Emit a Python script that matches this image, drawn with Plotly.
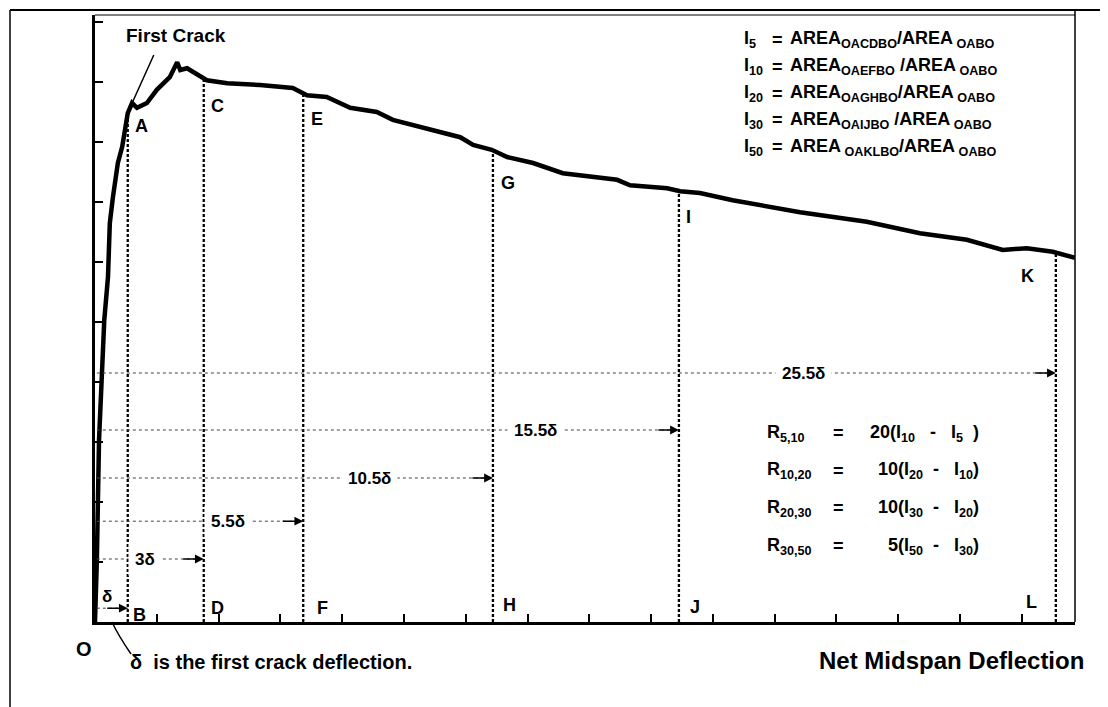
import numpy as np
import plotly.graph_objects as go

# ---------------- data (axis units: 1 unit = one tick interval) ----------------
x_curve = [0, 0.03, 0.065, 0.10, 0.15, 0.21, 0.24, 0.29, 0.37, 0.44, 0.53, 0.60, 0.68,
           0.84, 1.00, 1.21, 1.33, 1.38, 1.49, 1.81, 2.14, 2.67, 3.20, 3.43, 3.75, 4.13,
           4.56, 4.82, 5.47, 5.91, 6.12, 6.42, 6.67, 7.09, 7.57, 8.45, 8.66, 9.26, 9.47,
           9.79, 10.32, 10.87, 11.41, 12.49, 13.35, 14.11, 14.69, 15.08, 15.50, 15.86]
y_curve = [0, 1.03, 3.03, 4.03, 5.03, 5.75, 6.65, 7.08, 7.65, 7.92, 8.48, 8.65, 8.57,
           8.65, 8.87, 9.08, 9.33, 9.20, 9.23, 9.03, 8.98, 8.95, 8.90, 8.78, 8.75, 8.57,
           8.50, 8.37, 8.20, 8.08, 7.95, 7.87, 7.75, 7.65, 7.48, 7.37, 7.28, 7.23, 7.18,
           7.15, 7.03, 6.92, 6.83, 6.67, 6.48, 6.37, 6.20, 6.23, 6.17, 6.07]

# deflection marks (B, D, F, H, J, L) and their curve points (A, C, E, G, I, K)
bottom_names = ["B", "D", "F", "H", "J", "L"]
top_names = ["A", "C", "E", "G", "I", "K"]
mark_x = [0.53, 1.76, 3.37, 6.44, 9.45, 15.55]

# dimension lines: label, level
dim_labels = ["δ", "3δ", "5.5δ", "10.5δ", "15.5δ", "25.5δ"]
dim_levels = [0.23, 1.05, 1.68, 2.40, 3.20, 4.15]
dim_label_x = [0.19, 0.81, 2.15, 4.45, 7.13, 11.46]

index_names = ["I<sub>5</sub>", "I<sub>10</sub>", "I<sub>20</sub>", "I<sub>30</sub>", "I<sub>50</sub>"]
index_defs = [
    "AREA<sub>OACDBO</sub>/AREA<sub> OABO</sub>",
    "AREA<sub>OAEFBO</sub> /AREA<sub> OABO</sub>",
    "AREA<sub>OAGHBO</sub>/AREA<sub> OABO</sub>",
    "AREA<sub>OAIJBO</sub> /AREA<sub> OABO</sub>",
    "AREA<sub> OAKLBO</sub>/AREA<sub> OABO</sub>",
]
ratio_names = ["R<sub>5,10</sub>", "R<sub>10,20</sub>", "R<sub>20,30</sub>", "R<sub>30,50</sub>"]
ratio_defs = [
    "20(I<sub>10</sub>&nbsp;&nbsp; - &nbsp;&nbsp;I<sub>5</sub>&nbsp; )",
    "10(I<sub>20</sub>&nbsp; - &nbsp; I<sub>10</sub>)",
    "10(I<sub>30</sub>&nbsp; - &nbsp; I<sub>20</sub>)",
    "5(I<sub>50</sub>&nbsp; - &nbsp; I<sub>30</sub>)",
]

# ---------------- layout geometry (reference pixel frame) ----------------
PAGE_OFF = 8            # html body margin
W, H = 1108 - PAGE_OFF, 707 - PAGE_OFF
L_, R_, T_, B_ = 95, 1075, 15, 622
XMAX = 15.86
YMAX = 10.117


def pxx(px):
    return (px - L_) / (R_ - L_)


def pxy(py):
    return (B_ - py) / (B_ - T_)


FONT = "Liberation Sans, Arial, Helvetica, sans-serif"
NARROW = "Liberation Sans Narrow, Liberation Sans, Arial, sans-serif"


def bold(size, fam=FONT):
    return dict(family=fam, size=size, color="black", weight="bold")


fig = go.Figure()

# main load-deflection curve
fig.add_trace(go.Scatter(x=x_curve, y=y_curve, mode="lines",
                         line=dict(color="black", width=4.5), hoverinfo="skip"))

# vertical dashed lines from axis to curve
for xm in mark_x:
    ytop = float(np.interp(xm, x_curve, y_curve))
    fig.add_trace(go.Scatter(x=[xm, xm], y=[0, ytop], mode="lines",
                             line=dict(color="black", width=2.3, dash="3px,2px"),
                             hoverinfo="skip"))

# horizontal dimension lines
for xm, yl in zip(mark_x, dim_levels):
    fig.add_trace(go.Scatter(x=[0.03, xm], y=[yl, yl], mode="lines",
                             line=dict(color="#444", width=1, dash="dot"),
                             hoverinfo="skip"))

annotations = []
# arrowheads on dimension lines
for xm, yl in zip(mark_x, dim_levels):
    annotations.append(dict(x=xm, y=yl, xref="x", yref="y", ax=-22, ay=0,
                            axref="pixel", ayref="pixel", text="", showarrow=True,
                            arrowhead=2, arrowsize=1.1, arrowwidth=1.6,
                            arrowcolor="black", standoff=0))
# dimension labels
for i, (lab, lx, yl) in enumerate(zip(dim_labels, dim_label_x, dim_levels)):
    if i == 0:
        annotations.append(dict(x=lx, y=yl, xref="x", yref="y", yshift=12,
                                text=lab, showarrow=False, font=bold(17)))
    else:
        annotations.append(dict(x=lx, y=yl, xref="x", yref="y", text=lab,
                                showarrow=False, bgcolor="white", borderpad=6,
                                font=bold(17, NARROW)))

# point labels
top_shift = [(14, -13), (14, -28), (14, -26), (15, -33), (10, -26), (-28, -23)]
bot_shift = [(12, 7), (14, 14), (19, 14), (17, 17), (16, 15), (-24, 20)]
for name, xm, (dx, dy) in zip(top_names, mark_x, top_shift):
    ytop = float(np.interp(xm, x_curve, y_curve))
    annotations.append(dict(x=xm, y=ytop, xref="x", yref="y", xshift=dx, yshift=dy,
                            text=name, showarrow=False, font=bold(18)))
for name, xm, (dx, dy) in zip(bottom_names, mark_x, bot_shift):
    annotations.append(dict(x=xm, y=0, xref="x", yref="y", xshift=dx, yshift=dy,
                            text=name, showarrow=False, font=bold(18)))

# first crack leader + label
annotations.append(dict(x=mark_x[0] + 0.06, y=float(np.interp(mark_x[0] + 0.06, x_curve, y_curve)),
                        xref="x", yref="y", ax=23, ay=-51, axref="pixel", ayref="pixel",
                        text="", showarrow=True, arrowhead=0, arrowwidth=1.5,
                        arrowcolor="black"))


def paper_text(px, py, text, size, anchor="center"):
    annotations.append(dict(x=pxx(px), y=pxy(py), xref="paper", yref="paper",
                            xanchor=anchor, yanchor="middle", text=text,
                            showarrow=False, font=bold(size)))


paper_text(176, 36, "First Crack", 19)
paper_text(84, 649, "O", 20)
paper_text(128, 662, "δ&nbsp; is the first crack deflection.", 20, "left")
paper_text(817, 660, "Net Midspan Deflection", 24, "left")

# index equations
for i, (nm, df) in enumerate(zip(index_names, index_defs)):
    yy = 40 + 26.8 * i
    paper_text(742, yy, nm, 18, "left")
    paper_text(777, yy, "=", 18, "center")
    paper_text(788, yy, df, 18, "left")

# residual strength equations
for i, (nm, df) in enumerate(zip(ratio_names, ratio_defs)):
    yy = 433 + 37.7 * i
    paper_text(765, yy, nm, 18, "left")
    paper_text(838, yy, "=", 18, "center")
    paper_text(981, yy, df, 18, "right")

shapes = [
    # outer frame (top and left)
    dict(type="line", xref="paper", yref="paper", x0=pxx(10), y0=pxy(10),
         x1=pxx(1108), y1=pxy(10), line=dict(color="black", width=2)),
    dict(type="line", xref="paper", yref="paper", x0=pxx(10), y0=pxy(10),
         x1=pxx(10), y1=pxy(707), line=dict(color="black", width=1.5)),
    # plot box top and right
    dict(type="line", xref="paper", yref="paper", x0=0, y0=1, x1=1, y1=1,
         line=dict(color="black", width=1)),
    dict(type="line", xref="paper", yref="paper", x0=1, y0=0, x1=1, y1=pxy(10),
         line=dict(color="black", width=1.5)),
    # leader from the delta note
    dict(type="path", xref="paper", yref="paper",
         path=f"M {pxx(131)} {pxy(654)} Q {pxx(118)} {pxy(635)} {pxx(112)} {pxy(622)}",
         line=dict(color="black", width=1.5)),
]

fig.update_layout(
    width=W, height=H,
    margin=dict(l=L_ - PAGE_OFF, r=W - (R_ - PAGE_OFF), t=T_ - PAGE_OFF,
                b=H - (B_ - PAGE_OFF)),
    paper_bgcolor="white", plot_bgcolor="white",
    showlegend=False,
    annotations=annotations,
    shapes=shapes,
    xaxis=dict(range=[0, XMAX], tick0=0, dtick=1, ticks="inside", ticklen=8,
               tickwidth=1.5, tickcolor="black", showticklabels=False,
               showgrid=False, zeroline=False, showline=True, linewidth=2.5,
               linecolor="black", fixedrange=True),
    yaxis=dict(range=[0, YMAX], tick0=0, dtick=1, ticks="inside", ticklen=8,
               tickwidth=1.5, tickcolor="black", showticklabels=False,
               showgrid=False, zeroline=False, showline=True, linewidth=2.5,
               linecolor="black", fixedrange=True),
)

fig.write_html("out.html")
